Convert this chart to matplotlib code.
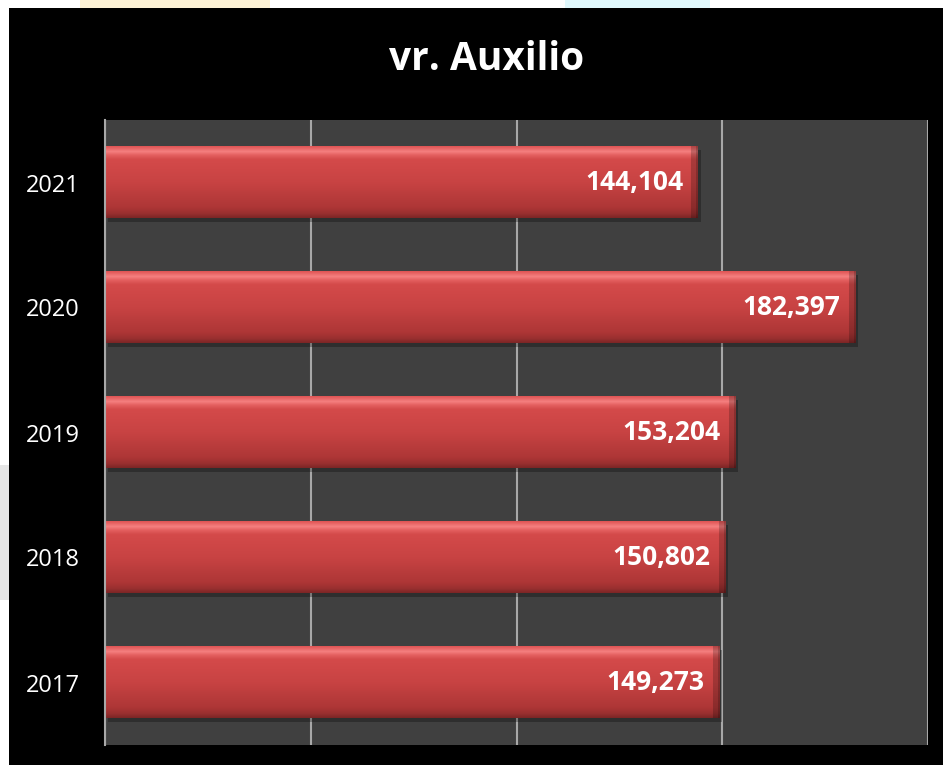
import numpy as np
import matplotlib
matplotlib.use("Agg")
import matplotlib.pyplot as plt
from matplotlib.patches import Rectangle
from matplotlib.colors import to_rgb
import matplotlib.transforms as mtransforms

# ---- data ----
years = ["2017", "2018", "2019", "2020", "2021"]
values = [149273, 150802, 153204, 182397, 144104]
title = "vr. Auxilio"
x_max = 200000
x_ticks = [0, 50000, 100000, 150000, 200000]

W, H = 943, 765
fig = plt.figure(figsize=(W / 100, H / 100), dpi=100)
fig.patch.set_facecolor("white")

# faint background blobs outside the black panel
fig.patches.append(Rectangle((80 / W, 1 - 8 / H), 190 / W, 8 / H, transform=fig.transFigure,
                             facecolor="#fdf3d6", edgecolor="none", zorder=0))
fig.patches.append(Rectangle((565 / W, 1 - 8 / H), 145 / W, 8 / H, transform=fig.transFigure,
                             facecolor="#e0f8fc", edgecolor="none", zorder=0))
fig.patches.append(Rectangle((0, 1 - 600 / H), 9 / W, 135 / H, transform=fig.transFigure,
                             facecolor="#e6e6e6", edgecolor="none", zorder=0))
# black panel
fig.patches.append(Rectangle((9 / W, 0), (W - 9) / W, (H - 8) / H, transform=fig.transFigure,
                             facecolor="black", edgecolor="none", zorder=1))

ax = fig.add_axes([105 / W, 1 - 745 / H, (928 - 105) / W, (745 - 120) / H])
ax.set_facecolor("#404040")
ax.set_zorder(2)

bars = ax.barh(years, values, height=0.57, color="#cc4242", zorder=3)
ax.set_xlim(0, x_max)
ax.set_ylim(-0.5, len(years) - 0.5)

ax.set_xticks(x_ticks)
ax.xaxis.grid(True, color="#a8a8a8", linewidth=1.5, zorder=1)
ax.tick_params(axis="x", length=0, labelbottom=False)
ax.tick_params(axis="y", length=0, labelcolor="white", labelsize=17, pad=18)
for s in ["top", "right", "bottom"]:
    ax.spines[s].set_visible(False)
ax.spines["left"].set_color("#a8a8a8")
ax.spines["left"].set_linewidth(1.5)
ax.spines["left"].set_zorder(5)

# vertical colour profile of a bevelled bar (bottom -> top)
stops = [(0.00, "#7e2626"), (0.06, "#9a3030"), (0.14, "#ad3636"), (0.50, "#c84343"),
         (0.82, "#d44a4a"), (0.88, "#e46060"), (0.93, "#f58080"), (1.00, "#e05656")]

def profile(n):
    t = np.linspace(0, 1, n)
    pos = [s[0] for s in stops]
    cols = np.array([to_rgb(s[1]) for s in stops])
    return np.stack([np.interp(t, pos, cols[:, k]) for k in range(3)], axis=1)

shadow_off = mtransforms.ScaledTranslation(2 / 72, -2.5 / 72, fig.dpi_scale_trans)
px_per_unit = ax.bbox.width / x_max

for bar, v in zip(bars, values):
    y0, h = bar.get_y(), bar.get_height()
    w = bar.get_width()
    # soft shadow
    ax.add_patch(Rectangle((0, y0), w, h, transform=ax.transData + shadow_off,
                           facecolor="black", alpha=0.28, edgecolor="none", zorder=2.5))
    ny = 70
    nx = max(int(w * px_per_unit), 10)
    col = profile(ny)
    img = np.repeat(col[:, None, :], nx, axis=1)
    # right-end bevel (darker)
    bev = 7
    img[:, -bev:, :] *= 0.8
    img[:, -2:, :] *= 0.82
    img = np.clip(img, 0, 1)
    ax.imshow(img, extent=[0, w, y0, y0 + h], origin="lower", aspect="auto",
              interpolation="bilinear", zorder=3.5)
    bar.set_visible(False)
    ax.text(w - 0.018 * x_max, y0 + h / 2, f"{v:,}", ha="right", va="center",
            color="white", fontsize=19, fontweight="bold", family="Open Sans", zorder=6)

ax.set_xlim(0, x_max)
ax.set_ylim(-0.5, len(years) - 0.5)

for lbl in ax.get_yticklabels():
    lbl.set_family("Open Sans")

fig.text(487 / W, 1 - 60 / H, title, ha="center", va="center", color="white",
         fontsize=28, fontweight="bold", family="Open Sans", zorder=10)

fig.savefig("out.png", dpi=100, facecolor=fig.get_facecolor())
